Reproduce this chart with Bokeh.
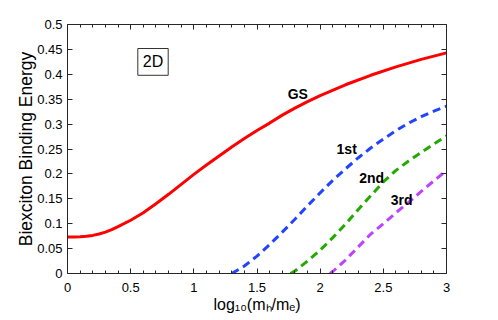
from bokeh.plotting import figure
from bokeh.models import LinearAxis, Range1d, Label, BoxAnnotation, FixedTicker
from bokeh.embed import file_html
from bokeh.resources import INLINE

# ---- data ----
gs_x = [0, 0.05, 0.1, 0.15, 0.2, 0.25, 0.3, 0.35, 0.4, 0.5, 0.6, 0.7, 0.8, 0.9, 1.0, 1.1,
        1.2, 1.3, 1.4, 1.5, 1.6, 1.7, 1.8, 1.9, 2.0, 2.2, 2.4, 2.6, 2.8, 3.0]
gs_y = [0.0735, 0.0734, 0.0737, 0.0748, 0.0765, 0.0793, 0.083, 0.088, 0.094, 0.107,
        0.122, 0.140, 0.159, 0.179, 0.199, 0.218, 0.236, 0.254, 0.271, 0.287, 0.302,
        0.318, 0.332, 0.345, 0.357, 0.379, 0.398, 0.415, 0.430, 0.443]

ex1_x = [1.3, 1.4, 1.5, 1.6, 1.7, 1.8, 1.9, 2.0, 2.1, 2.2, 2.3, 2.4, 2.5, 2.6, 2.7, 2.8, 2.9, 3.0]
ex1_y = [0.0, 0.015, 0.035, 0.058, 0.083, 0.109, 0.136, 0.162, 0.187, 0.210, 0.232,
         0.252, 0.270, 0.287, 0.302, 0.315, 0.326, 0.336]

ex2_x = [1.765, 1.8, 1.9, 2.0, 2.1, 2.2, 2.3, 2.4, 2.5, 2.6, 2.7, 2.8, 2.9, 3.0]
ex2_y = [0.0, 0.005, 0.025, 0.047, 0.072, 0.099, 0.128, 0.156, 0.184, 0.207, 0.226,
         0.243, 0.260, 0.276]

ex3_x = [2.077, 2.1, 2.2, 2.3, 2.4, 2.5, 2.6, 2.7, 2.8, 2.9, 3.0]
ex3_y = [0.0, 0.004, 0.027, 0.053, 0.079, 0.100, 0.122, 0.143, 0.165, 0.186, 0.207]

x_ticks = [0, 0.5, 1, 1.5, 2, 2.5, 3]
x_tick_labels = ["0", "0.5", "1", "1.5", "2", "2.5", "3"]
x_minor = [0.1, 0.2, 0.3, 0.4, 0.6, 0.7, 0.8, 0.9, 1.1, 1.2, 1.3, 1.4, 1.6, 1.7, 1.8,
           1.9, 2.1, 2.2, 2.3, 2.4, 2.6, 2.7, 2.8, 2.9]
y_ticks = [0, 0.05, 0.1, 0.15, 0.2, 0.25, 0.3, 0.35, 0.4, 0.45, 0.5]
y_tick_labels = ["0", "0.05", "0.1", "0.15", "0.2", "0.25", "0.3", "0.35", "0.4", "0.45", "0.5"]

curve_names = ["GS", "1st", "2nd", "3rd"]
x_label = "log\u2081\u2080(m\u2095/m\u2091)"
y_label = "Biexciton Binding Energy"

FONT = "Liberation Sans"
AX = "#262626"

p = figure(width=498, height=320, x_range=Range1d(0, 3), y_range=Range1d(0, 0.5),
           output_backend="svg", toolbar_location=None,
           min_border_left=67, min_border_right=52, min_border_top=24, min_border_bottom=47)
p.xgrid.visible = False
p.ygrid.visible = False
p.outline_line_color = None
p.background_fill_color = "white"
p.border_fill_color = "white"

xt = FixedTicker(ticks=x_ticks, minor_ticks=x_minor)
yt = FixedTicker(ticks=y_ticks, minor_ticks=[])

def style_axis(ax):
    ax.axis_line_color = AX
    ax.major_tick_line_color = AX
    ax.minor_tick_line_color = AX
    ax.major_tick_in = 5
    ax.major_tick_out = 0
    ax.minor_tick_in = 3
    ax.minor_tick_out = 0
    ax.major_label_text_font = FONT
    ax.major_label_text_font_size = "13px"
    ax.major_label_text_color = "black"

xa = p.xaxis[0]
xa.ticker = xt
xa.major_label_overrides = {t: s for t, s in zip(x_ticks, x_tick_labels)}
style_axis(xa)
xa.major_label_standoff = 9
xa.axis_label = x_label
xa.axis_label_text_font = FONT
xa.axis_label_text_font_size = "16px"
xa.axis_label_text_font_style = "normal"
xa.axis_label_text_color = "black"
xa.axis_label_standoff = 1

ya = p.yaxis[0]
ya.ticker = yt
ya.major_label_overrides = {t: s for t, s in zip(y_ticks, y_tick_labels)}
style_axis(ya)
ya.major_label_standoff = 5
ya.axis_label = y_label
ya.axis_label_text_font = FONT
ya.axis_label_text_font_size = "17.5px"
ya.axis_label_text_font_style = "normal"
ya.axis_label_text_color = "black"
ya.axis_label_standoff = -2

top = LinearAxis(ticker=xt)
style_axis(top)
top.major_label_overrides = {t: "" for t in x_ticks}
top.major_label_standoff = 0
p.add_layout(top, "above")
right = LinearAxis(ticker=yt)
style_axis(right)
right.major_label_overrides = {t: "" for t in y_ticks}
right.major_label_standoff = 0
p.add_layout(right, "right")

# ---- curves ----
p.line(gs_x, gs_y, line_color="#ff0000", line_width=3)
p.line(ex1_x, ex1_y, line_color="#2244ff", line_width=3, line_dash="8 5")
p.line(ex2_x, ex2_y, line_color="#22aa00", line_width=3, line_dash="8 5")
p.line(ex3_x, ex3_y, line_color="#bb44ff", line_width=3, line_dash="8 5")

# curve labels
label_pos = [(1.823, 0.360), (2.210, 0.250), (2.408, 0.1914), (2.645, 0.148)]
for name, (lx, ly) in zip(curve_names, label_pos):
    p.add_layout(Label(x=lx, y=ly, text=name, text_font=FONT, text_font_size="14px",
                       text_font_style="bold", text_align="center", text_baseline="middle",
                       text_color="black"))

# 2D box
p.add_layout(BoxAnnotation(left=0.5565, right=0.797, bottom=0.398, top=0.4518,
                           fill_color="white", fill_alpha=1.0, line_color="#333333",
                           line_alpha=1.0, line_width=1))
p.add_layout(Label(x=0.677, y=0.4249, text="2D", text_font=FONT, text_font_size="16px",
                   text_align="center", text_baseline="middle", text_color="black"))

open("out.html", "w").write(file_html(p, INLINE))
